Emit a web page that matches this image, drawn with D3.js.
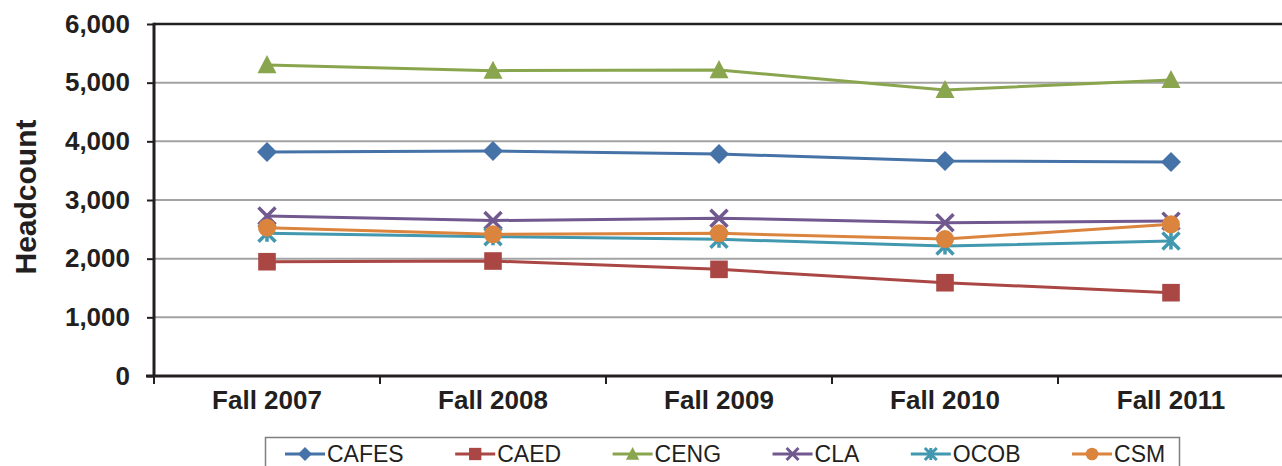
<!DOCTYPE html>
<html><head><meta charset="utf-8">
<script src="https://cdn.jsdelivr.net/npm/d3@7"></script>
<style>
html,body{margin:0;padding:0;background:#fff;}
svg{display:block;font-family:"Liberation Sans",Arial,sans-serif;}
</style></head>
<body><svg id="c" width="1282" height="466"></svg>
<script>
const categories = ["Fall 2007","Fall 2008","Fall 2009","Fall 2010","Fall 2011"];
const yTicks = [0,1000,2000,3000,4000,5000,6000];
const seriesNames = ["CAFES","CAED","CENG","CLA","OCOB","CSM"];
const CAFES = [3818,3835,3784,3665,3648];
const CAED  = [1948,1960,1818,1590,1420];
const CENG  = [5300,5205,5215,4875,5045];
const CLA   = [2727,2650,2690,2613,2640];
const OCOB  = [2432,2375,2330,2216,2301];
const CSM   = [2528,2415,2432,2335,2585];
const seriesValues = [CAFES,CAED,CENG,CLA,OCOB,CSM];
const colors = ["#4572A7","#AA4643","#89A54E","#71588F","#4198AF","#DB843D"];
const markers = ["diamond","square","triangle","x","star","circle"];

(function(){
const svg = d3.select("#c");
const pLeft = 154, pTop = 24, pBottom = 376, pRight = 1284;
const x = d3.scaleBand().domain(categories).range([pLeft, pRight]);
const y = d3.scaleLinear().domain([0, 6000]).range([pBottom, pTop]);
const ink = "#231f20";

svg.append("g").selectAll("line").data(yTicks.filter(v => v > 0 && v < 6000)).join("line")
  .attr("x1", pLeft).attr("x2", 1282).attr("y1", d => y(d)).attr("y2", d => y(d))
  .attr("stroke", "#a3a3a3").attr("stroke-width", 2);
svg.append("line").attr("x1", pLeft).attr("x2", 1282).attr("y1", y(6000)).attr("y2", y(6000))
  .attr("stroke", ink).attr("stroke-width", 2.5);

const yAxis = d3.axisLeft(y).tickValues(yTicks).tickSize(7).tickPadding(17).tickFormat(d3.format(","));
const gy = svg.append("g").attr("transform", `translate(${pLeft},0)`).call(yAxis);
gy.select(".domain").remove();
gy.selectAll(".tick line").attr("stroke", ink).attr("stroke-width", 2);
gy.selectAll(".tick text").attr("fill", ink).style("font-size", "26px").style("font-weight", "bold")
  .style("font-family", '"Liberation Sans",Arial,sans-serif');
svg.append("line").attr("x1", pLeft).attr("x2", pLeft).attr("y1", y(6000) - 1.2).attr("y2", pBottom)
  .attr("stroke", ink).attr("stroke-width", 3);

const gx = svg.append("g").attr("transform", `translate(0,${pBottom})`);
gx.append("line").attr("x1", pLeft - 8).attr("x2", 1282).attr("y1", 0).attr("y2", 0)
  .attr("stroke", ink).attr("stroke-width", 3);
gx.selectAll("line.tk").data(categories).join("line").attr("class", "tk")
  .attr("x1", d => x(d)).attr("x2", d => x(d)).attr("y1", 0).attr("y2", 8)
  .attr("stroke", ink).attr("stroke-width", 2);
gx.selectAll("text").data(categories).join("text")
  .attr("x", d => x(d) + x.bandwidth() / 2).attr("y", 33)
  .attr("text-anchor", "middle").attr("fill", ink)
  .style("font-size", "26px").style("font-weight", "bold").text(d => d);

svg.append("text").attr("transform", `translate(36,197) rotate(-90)`)
  .attr("text-anchor", "middle").attr("fill", ink)
  .style("font-size", "30px").style("font-weight", "bold").text("Headcount");

function markerPath(type, s) {
  switch (type) {
    case "diamond": return `M0,${-s}L${s},0L0,${s}L${-s},0Z`;
    case "square": return `M${-s},${-s}H${s}V${s}H${-s}Z`;
    case "triangle": return `M0,${-s*1.05}L${s},${s*0.85}L${-s},${s*0.85}Z`;
    case "circle": return d3.symbol(d3.symbolCircle, Math.PI * s * s)();
    case "x": return `M${-s},${-s}L${s},${s}M${-s},${s}L${s},${-s}`;
    case "star": return `M${-s},${-s}L${s},${s}M${-s},${s}L${s},${-s}M0,${-s}V${s}`;
  }
}
const stroked = t => t === "x" || t === "star";
const mSize = {diamond: 10, square: 8.8, triangle: 9.5, circle: 9, x: 8.5, star: 8.5};

const line = d3.line().x((d, i) => x(categories[i]) + x.bandwidth() / 2).y(d => y(d));
seriesNames.forEach((name, si) => {
  const g = svg.append("g");
  g.append("path").datum(seriesValues[si]).attr("d", line)
    .attr("fill", "none").attr("stroke", colors[si]).attr("stroke-width", 3);
  g.selectAll("path.m").data(seriesValues[si]).join("path").attr("class", "m")
    .attr("transform", (d, i) => `translate(${x(categories[i]) + x.bandwidth() / 2},${y(d)})`)
    .attr("d", markerPath(markers[si], mSize[markers[si]]))
    .attr("fill", stroked(markers[si]) ? "none" : colors[si])
    .attr("stroke", stroked(markers[si]) ? colors[si] : "none")
    .attr("stroke-width", stroked(markers[si]) ? 3.5 : 0);
});

svg.append("rect").attr("x", 265.5).attr("y", 437.5).attr("width", 914).attr("height", 40)
  .attr("fill", "#fff").attr("stroke", "#7f7f7f").attr("stroke-width", 1.5);
const lg = svg.append("g");
let lx = 285;
seriesNames.forEach((name, si) => {
  const ly = 454;
  lg.append("line").attr("x1", lx).attr("x2", lx + 40).attr("y1", ly).attr("y2", ly)
    .attr("stroke", colors[si]).attr("stroke-width", 3);
  lg.append("path").attr("transform", `translate(${lx + 20},${ly})`)
    .attr("d", markerPath(markers[si], mSize[markers[si]] * 0.7))
    .attr("fill", stroked(markers[si]) ? "none" : colors[si])
    .attr("stroke", stroked(markers[si]) ? colors[si] : "none")
    .attr("stroke-width", stroked(markers[si]) ? 3 : 0);
  const t = lg.append("text").attr("x", lx + 42).attr("y", ly + 8).attr("fill", ink)
    .style("font-size", "23px").text(name);
  lx = lx + 42 + t.node().getComputedTextLength() + 51.5;
});
})();
</script></body></html>
